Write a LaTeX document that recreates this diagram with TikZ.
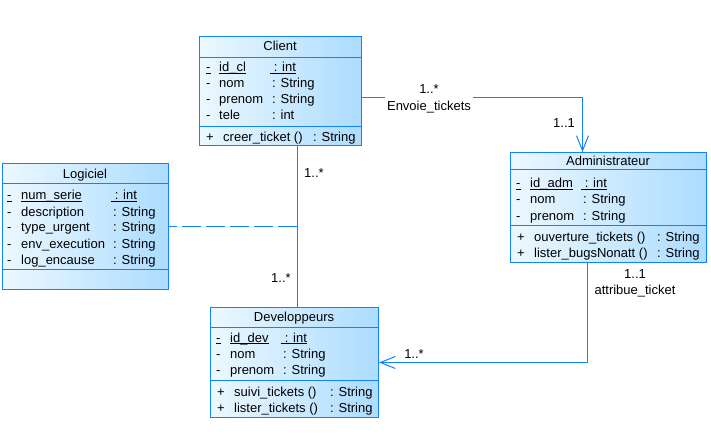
\documentclass[tikz,border=0pt]{standalone}
\usepackage{fontspec}
\setmainfont{Liberation Sans}
\usetikzlibrary{arrows.meta}
\definecolor{umlblue}{RGB}{16,132,255}
\definecolor{fillL}{RGB}{236,248,255}
\definecolor{fillR}{RGB}{172,220,255}
\newcommand\myul[1]{\setbox0\hbox{#1}\rlap{\rule[-1.6pt]{\wd0}{0.8pt}}\box0}
\begin{document}
\begin{tikzpicture}[x=1pt,y=-1pt,
  font=\fontsize{13pt}{15pt}\selectfont,
  classbox/.style={rectangle, draw=umlblue, line width=1pt, left color=fillL, right color=fillR, inner sep=0pt, anchor=north west},
  sepline/.style={draw=umlblue, line width=1pt},
  txt/.style={anchor=west, inner sep=0pt, text height=13pt, text depth=3pt},
  ttl/.style={anchor=center, inner sep=0pt, text height=13pt, text depth=3pt},
  conn/.style={draw=umlblue, line width=1pt},
  lbl/.style={inner sep=0pt, text height=13pt, text depth=3pt},
  barb/.style={-{Straight Barb[length=15pt,width=12pt,line width=1pt]}}
]
\useasboundingbox (0,0) rectangle (711,438);

% ---------- class boxes ----------
\node[classbox, minimum width=162pt, minimum height=109pt] (client) at (199,36) {};
\node[classbox, minimum width=166pt, minimum height=126pt] (logiciel) at (2,163) {};
\node[classbox, minimum width=196pt, minimum height=110pt] (admin) at (510,152) {};
\node[classbox, minimum width=168pt, minimum height=110pt] (dev) at (210,307) {};

% separators
\draw[sepline] (199,58) -- (361,58);
\draw[sepline] (199,127) -- (361,127);
\draw[sepline] (2,184) -- (168,184);
\draw[sepline] (2,269) -- (168,269);
\draw[sepline] (510,170) -- (706,170);
\draw[sepline] (510,225) -- (706,225);
\draw[sepline] (210,327) -- (378,327);
\draw[sepline] (210,380) -- (378,380);

% ---------- Client ----------
\node[ttl] (clientT) at (280,46) {Client};
\node[txt] (c1a) at (206,67) {\myul{-}};
\node[txt] (c1b) at (219,67) {\myul{id\_cl}};
\node[txt] (c1c) at (270,67) {\myul{\ : int}};
\node[txt] (c2a) at (206,83) {-};
\node[txt] (c2b) at (219,83) {nom};
\node[txt] (c2c) at (272,83) {: String};
\node[txt] (c3a) at (206,99) {-};
\node[txt] (c3b) at (219,99) {prenom};
\node[txt] (c3c) at (272,99) {: String};
\node[txt] (c4a) at (206,115) {-};
\node[txt] (c4b) at (219,115) {tele};
\node[txt] (c4c) at (272,115) {: int};
\node[txt] (cm1a) at (206,137) {+};
\node[txt] (cm1b) at (223,137) {creer\_ticket ()};
\node[txt] (cm1c) at (313,137) {: String};

% ---------- Logiciel ----------
\node[ttl] (logT) at (85,174) {Logiciel};
\node[txt] (l1a) at (7,195) {\myul{-}};
\node[txt] (l1b) at (21,195) {\myul{num\_serie}};
\node[txt] (l1c) at (111,195) {\myul{\ : int}};
\node[txt] (l2a) at (7,211) {-};
\node[txt] (l2b) at (21,211) {description};
\node[txt] (l2c) at (113,211) {: String};
\node[txt] (l3a) at (7,227) {-};
\node[txt] (l3b) at (21,227) {type\_urgent};
\node[txt] (l3c) at (113,227) {: String};
\node[txt] (l4a) at (7,243) {-};
\node[txt] (l4b) at (21,243) {env\_execution};
\node[txt] (l4c) at (113,243) {: String};
\node[txt] (l5a) at (7,259) {-};
\node[txt] (l5b) at (21,259) {log\_encause};
\node[txt] (l5c) at (113,259) {: String};

% ---------- Administrateur ----------
\node[ttl] (adminT) at (608,161) {Administrateur};
\node[txt] (a1a) at (516,183) {\myul{-}};
\node[txt] (a1b) at (530,183) {\myul{id\_adm}};
\node[txt] (a1c) at (581,183) {\myul{\ : int}};
\node[txt] (a2a) at (516,199) {-};
\node[txt] (a2b) at (530,199) {nom};
\node[txt] (a2c) at (583,199) {: String};
\node[txt] (a3a) at (516,215) {-};
\node[txt] (a3b) at (530,215) {prenom};
\node[txt] (a3c) at (583,215) {: String};
\node[txt] (am1a) at (517,236) {+};
\node[txt] (am1b) at (534,236) {ouverture\_tickets ()};
\node[txt] (am1c) at (657,236) {: String};
\node[txt] (am2a) at (517,252) {+};
\node[txt] (am2b) at (534,252) {lister\_bugsNonatt ()};
\node[txt] (am2c) at (657,252) {: String};

% ---------- Developpeurs ----------
\node[ttl] (devT) at (294,316) {Developpeurs};
\node[txt] (d1a) at (216,337) {\myul{-}};
\node[txt] (d1b) at (230,337) {\myul{id\_dev}};
\node[txt] (d1c) at (281,337) {\myul{\ : int}};
\node[txt] (d2a) at (216,353) {-};
\node[txt] (d2b) at (230,353) {nom};
\node[txt] (d2c) at (283,353) {: String};
\node[txt] (d3a) at (216,369) {-};
\node[txt] (d3b) at (230,369) {prenom};
\node[txt] (d3c) at (283,369) {: String};
\node[txt] (dm1a) at (217,391) {+};
\node[txt] (dm1b) at (234,391) {suivi\_tickets ()};
\node[txt] (dm1c) at (330,391) {: String};
\node[txt] (dm2a) at (217,407) {+};
\node[txt] (dm2b) at (234,407) {lister\_tickets ()};
\node[txt] (dm2c) at (330,407) {: String};

% ---------- connectors ----------
\coordinate (j) at (297,226);
% Client -- Developpeurs
\draw[conn] (client.south -| j) -- (dev.north -| j);
% Logiciel - - association class link
\draw[conn, dash pattern=on 19pt off 5pt] (j) -- (logiciel.east |- j);
% Client -> Administrateur
\draw[conn, barb] ([yshift=-6.5pt]client.east) -| ([xshift=-26pt]admin.north);
% Administrateur -> Developpeurs
\draw[conn, barb] ([xshift=-21pt]admin.south) |- (dev.east);

% ---------- labels ----------
\node[lbl, fill=white, inner xsep=2pt, text height=18pt, text depth=4pt, anchor=base] (envoie) at (429,111) {Envoie\_tickets};
\node[lbl] (m1) at (429,89) {1..*};
\node[lbl] (m2) at (564,123) {1..1};
\node[lbl] (m3) at (314,173) {1..*};
\node[lbl] (m4) at (281,277) {1..*};
\node[lbl] (m5) at (635,273) {1..1};
\node[lbl] (attr) at (635,289) {attribue\_ticket};
\node[lbl] (m6) at (414,353) {1..*};
\end{tikzpicture}
\end{document}
